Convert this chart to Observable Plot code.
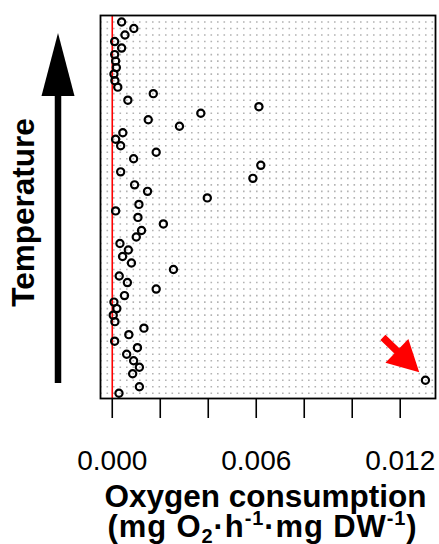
<!DOCTYPE html>
<html>
<head>
<meta charset="utf-8">
<script src="https://cdn.jsdelivr.net/npm/d3@7"></script>
<script src="https://cdn.jsdelivr.net/npm/@observablehq/plot@0.6"></script>
<style>
  html, body { margin: 0; padding: 0; background: #ffffff; }
  #chart svg { display: block; }
</style>
</head>
<body>
<div id="chart"></div>
<script>
// Oxygen consumption per individual, listed from the top row (highest temperature) to the bottom row
const oxygen = [
  0.00039, 0.00090, 0.00053, 0.00010, 0.00039, 0.00010, 0.00014, 0.00017, 0.00007, 0.00011,
  0.00023, 0.00171, 0.00065, 0.00611, 0.00369, 0.00150, 0.00280, 0.00044, 0.00014, 0.00035,
  0.00183, 0.00089, 0.00619, 0.00035, 0.00586, 0.00093, 0.00147, 0.00396, 0.00111, 0.00014,
  0.00107, 0.00213, 0.00122, 0.00100, 0.00032, 0.00067, 0.00043, 0.00080, 0.00255, 0.00029,
  0.00063, 0.00183, 0.00051, 0.00007, 0.00019, 0.00004, 0.00011, 0.00132, 0.00069, 0.00010,
  0.00105, 0.00060, 0.00089, 0.00113, 0.00085, 0.01305, 0.00113, 0.00028
];
const xTicks = [0, 0.002, 0.004, 0.006, 0.008, 0.010, 0.012];
const xTickLabels = ["0.000", "", "", "0.006", "", "", "0.012"];
const xDomain = [-0.00049, 0.01347];
const yLabel = "Temperature";
const xTitle = "Oxygen consumption";
const xUnitParts = [
  ["(mg O", "normal"], ["2", "sub"], ["\u00B7h", "normal"], ["-1", "sup"],
  ["\u00B7mg DW", "normal"], ["-1", "sup"], [")", "normal"]
];
const referenceValue = [0];

const data = oxygen.map((v, i) => ({ row: i + 1, value: v }));
const outlier = data.reduce((a, b) => (b.value > a.value ? b : a));
const FONT = "'Liberation Sans', Arial, Helvetica, sans-serif";

function annotations(index, scales, values, dims) {
  const g = d3.create("svg:g").attr("font-family", FONT);
  const top = dims.marginTop;
  const bottom = dims.height - dims.marginBottom;
  const midY = (top + bottom) / 2;

  // Temperature arrow (upward)
  const ax = 58;
  g.append("line")
    .attr("x1", ax).attr("x2", ax)
    .attr("y1", bottom - 15).attr("y2", top + 80)
    .attr("stroke", "black").attr("stroke-width", 6.5);
  g.append("polygon")
    .attr("points", `${ax - 16.5},${top + 81} ${ax + 16.5},${top + 81} ${ax},${top + 18}`)
    .attr("fill", "black");
  g.append("text")
    .attr("transform", `translate(34,${midY + 6}) rotate(-90)`)
    .attr("text-anchor", "middle")
    .attr("font-weight", "bold")
    .attr("font-size", 31.5)
    .attr("fill", "black")
    .text(yLabel);

  // Red arrow pointing at the outlier
  const px = scales.x(outlier.value), py = scales.y(outlier.row);
  const tip = [px - 5.7, py - 7.4];
  const tail = [px - 42, py - 42.4];
  const dx = tip[0] - tail[0], dy = tip[1] - tail[1];
  const len = Math.hypot(dx, dy);
  const ux = dx / len, uy = dy / len, nx = -uy, ny = ux;
  const headLen = 31, headHalf = 16.5, shaftHalf = 3.6;
  const bx = tip[0] - ux * headLen, by = tip[1] - uy * headLen;
  const pts = [
    [tail[0] + nx * shaftHalf, tail[1] + ny * shaftHalf],
    [bx + nx * shaftHalf, by + ny * shaftHalf],
    [bx + nx * headHalf, by + ny * headHalf],
    tip,
    [bx - nx * headHalf, by - ny * headHalf],
    [bx - nx * shaftHalf, by - ny * shaftHalf],
    [tail[0] - nx * shaftHalf, tail[1] - ny * shaftHalf]
  ];
  g.append("polygon").attr("points", pts.map(p => p.join(",")).join(" ")).attr("fill", "#ff0000");

  // X axis title (two lines)
  const cx = (dims.marginLeft + dims.width - dims.marginRight) / 2;
  g.append("text")
    .attr("x", cx - 2).attr("y", bottom + 108.5)
    .attr("text-anchor", "middle")
    .attr("font-weight", "bold").attr("font-size", 31.5).attr("fill", "black")
    .text(xTitle);
  const t2 = g.append("text")
    .attr("x", cx - 5).attr("y", bottom + 138.5)
    .attr("text-anchor", "middle")
    .attr("letter-spacing", "0.9px")
    .attr("font-weight", "bold").attr("font-size", 31).attr("fill", "black");
  let shift = 0;
  for (const [s, kind] of xUnitParts) {
    const target = kind === "sub" ? 6 : kind === "sup" ? -12 : 0;
    t2.append("tspan")
      .attr("dy", target - shift)
      .attr("font-size", kind === "normal" ? 31 : 20)
      .text(s);
    shift = target;
  }
  return g.node();
}

const chart = Plot.plot({
  width: 439,
  height: 544,
  marginLeft: 100,
  marginRight: 4,
  marginTop: 15,
  marginBottom: 146,
  style: { fontFamily: FONT, background: "#ffffff", color: "black", overflow: "visible" },
  x: { domain: xDomain },
  y: { domain: [0, 58.8], reverse: true, axis: null },
  marks: [
    Plot.ruleY(data, { y: "row", stroke: "#b3b3b3", strokeWidth: 1.6, strokeDasharray: "1.6,4.9" }),
    Plot.ruleX(referenceValue, { stroke: "#ff0000", strokeWidth: 1.6 }),
    Plot.dot(data, { x: "value", y: "row", r: 3.6, stroke: "black", strokeWidth: 2.2, fill: "none" }),
    Plot.frame({ stroke: "black", strokeWidth: 1.8 }),
    Plot.axisX({
      ticks: xTicks,
      tickSize: 20,
      tickPadding: 32,
      fontSize: 28,
      strokeWidth: 1.6,
      label: null,
      tickFormat: (d, i) => xTickLabels[xTicks.findIndex(t => Math.abs(t - d) < 1e-9)] ?? ""
    }),
    annotations
  ]
});
document.getElementById("chart").appendChild(chart);
</script>
</body>
</html>
